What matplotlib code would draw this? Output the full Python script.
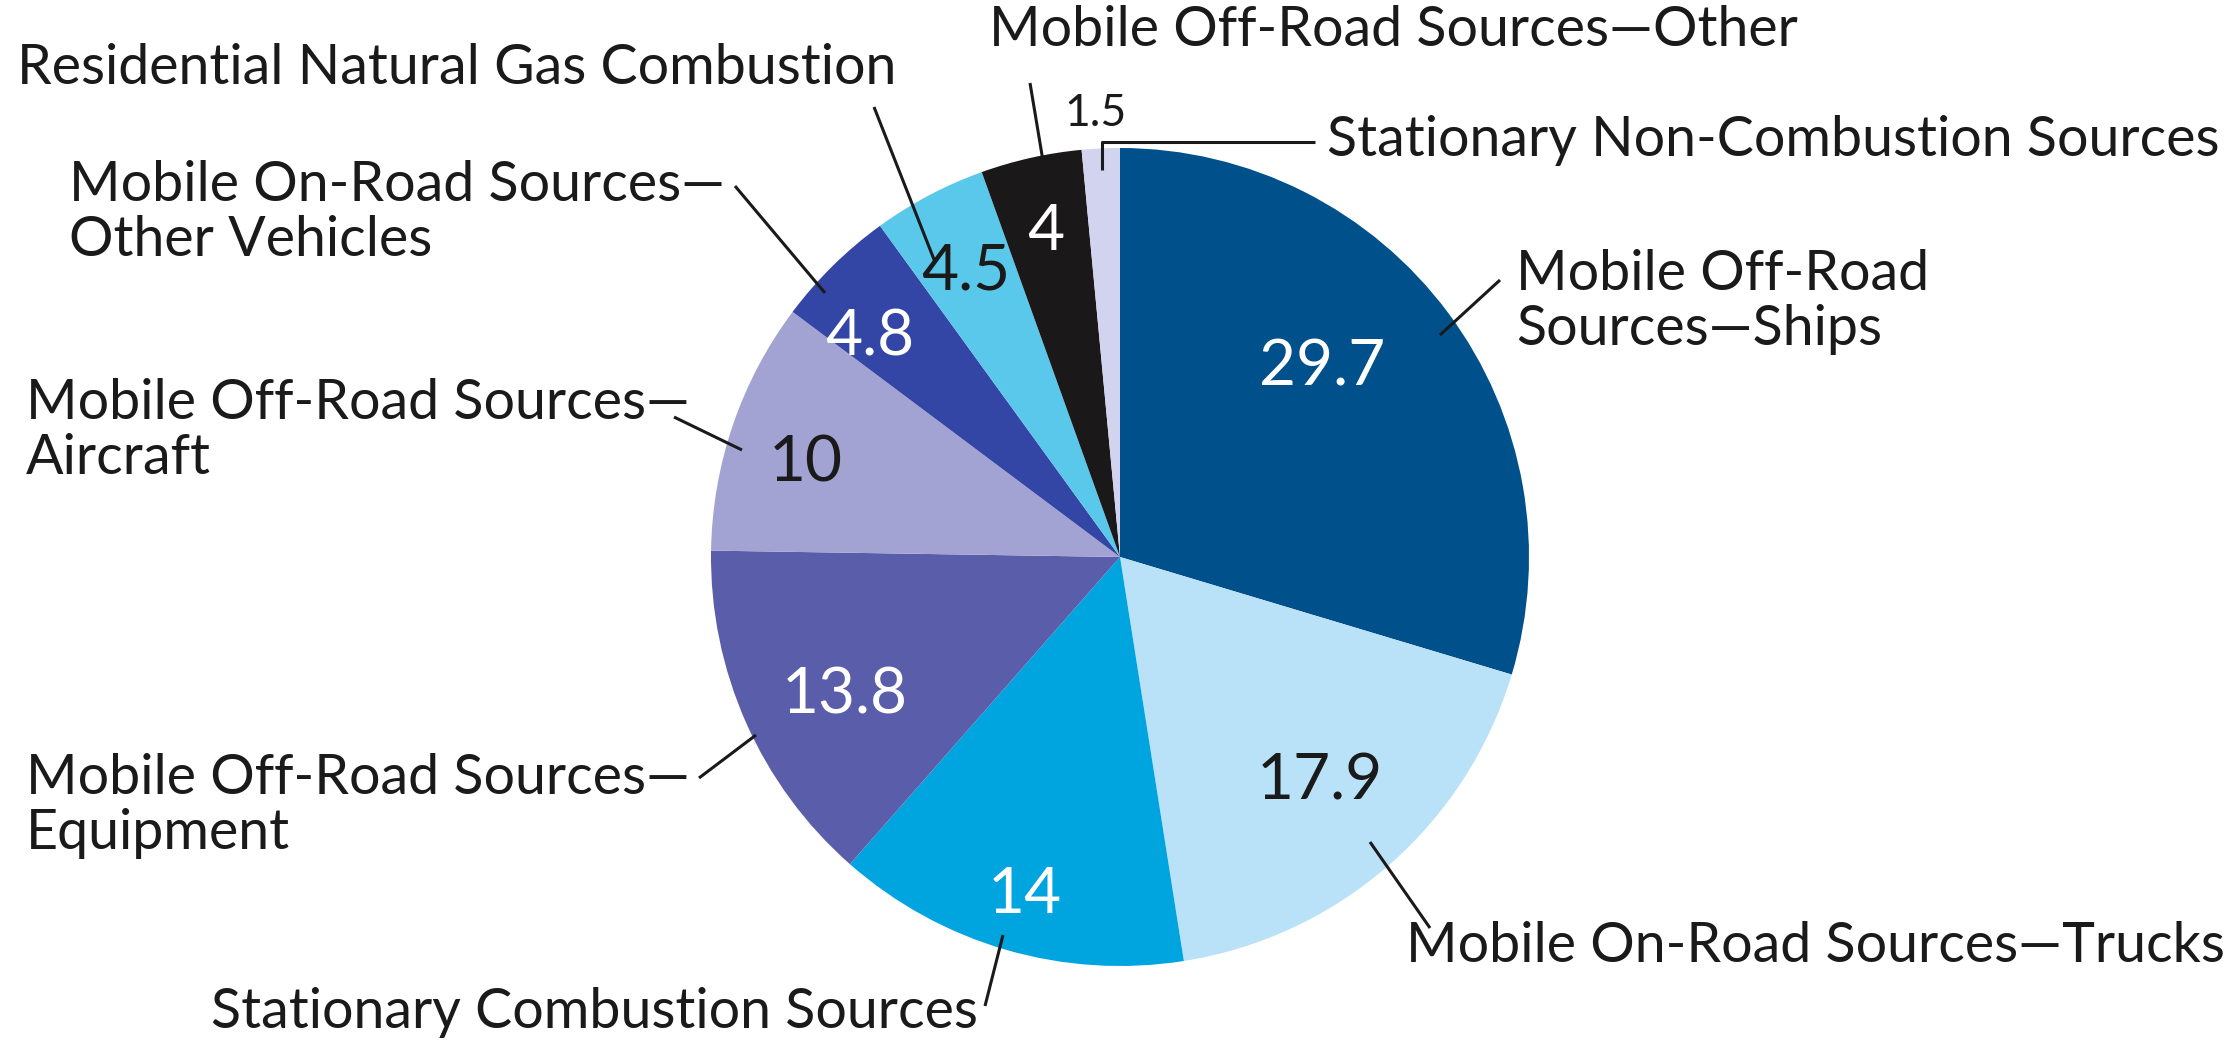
import matplotlib
matplotlib.use("Agg")
import matplotlib.pyplot as plt

W, H = 2238, 1041

categories = [
    "Mobile Off-Road\nSources—Ships",
    "Mobile On-Road Sources—Trucks",
    "Stationary Combustion Sources",
    "Mobile Off-Road Sources—\nEquipment",
    "Mobile Off-Road Sources—\nAircraft",
    "Mobile On-Road Sources—\nOther Vehicles",
    "Residential Natural Gas Combustion",
    "Mobile Off-Road Sources—Other",
    "Stationary Non-Combustion Sources",
]
values = [29.7, 17.9, 14, 13.8, 10, 4.8, 4.5, 4, 1.5]
value_labels = ["29.7", "17.9", "14", "13.8", "10", "4.8", "4.5", "4", "1.5"]

colors = ["#00508c", "#b9e1f7", "#00a5df", "#5a5eaa", "#a2a3d3",
          "#3446a5", "#5ac8eb", "#1b1819", "#d2d4ef"]
value_colors = ["white", "#1a1a1a", "white", "white", "#1a1a1a",
                "white", "#1a1a1a", "white", "#1a1a1a"]

plt.rcParams["font.family"] = ["Lato", "DejaVu Sans"]

fig = plt.figure(figsize=(W / 100, H / 100), dpi=100)
ax = fig.add_axes([0, 0, 1, 1])


def py(y):
    # image row -> plot y
    return H - y


ax.pie(values, colors=colors, startangle=90, counterclock=False,
       center=(1120, py(557)), radius=409, frame=True,
       wedgeprops=dict(linewidth=0))
ax.set_xlim(0, W)
ax.set_ylim(0, H)
ax.set_aspect("equal")
ax.axis("off")

# value labels inside slices
val_pos = [(1322, 368), (1320, 781), (1025, 895), (845, 695), (806, 464),
           (870, 337), (966, 272), (1046, 232), (1096, 113)]
for (x, y), t, c, v in zip(val_pos, value_labels, value_colors, values):
    fs = 32 if v < 2 else 46
    ax.text(x, py(y), t, color=c, fontsize=fs, ha="center", va="center")

# category labels
txt_pos = [(1516, 302), (1406, 946), (211, 1013), (26, 806), (26, 431),
           (69, 213), (17, 69), (989, 31), (1327, 140)]
for (x, y), t in zip(txt_pos, categories):
    ax.text(x, py(y), t, color="#1a1a1a", fontsize=40, ha="left",
            va="center", linespacing=1.12)

# leader lines
leaders = [
    [(1500, 280), (1440, 335)],
    [(1370, 842), (1430, 928)],
    [(1003, 935), (985, 1006)],
    [(699, 778), (756, 735)],
    [(674, 417), (742, 450)],
    [(735, 186), (825, 293)],
    [(874, 107), (935, 262)],
    [(1030, 83), (1043, 161)],
    [(1102, 170), (1102, 142), (1315, 142)],
]
for pts in leaders:
    xs = [p[0] for p in pts]
    ys = [py(p[1]) for p in pts]
    ax.plot(xs, ys, color="#1a1a1a", linewidth=2.2, solid_capstyle="butt")

fig.savefig("out.png", dpi=100, facecolor="white")
